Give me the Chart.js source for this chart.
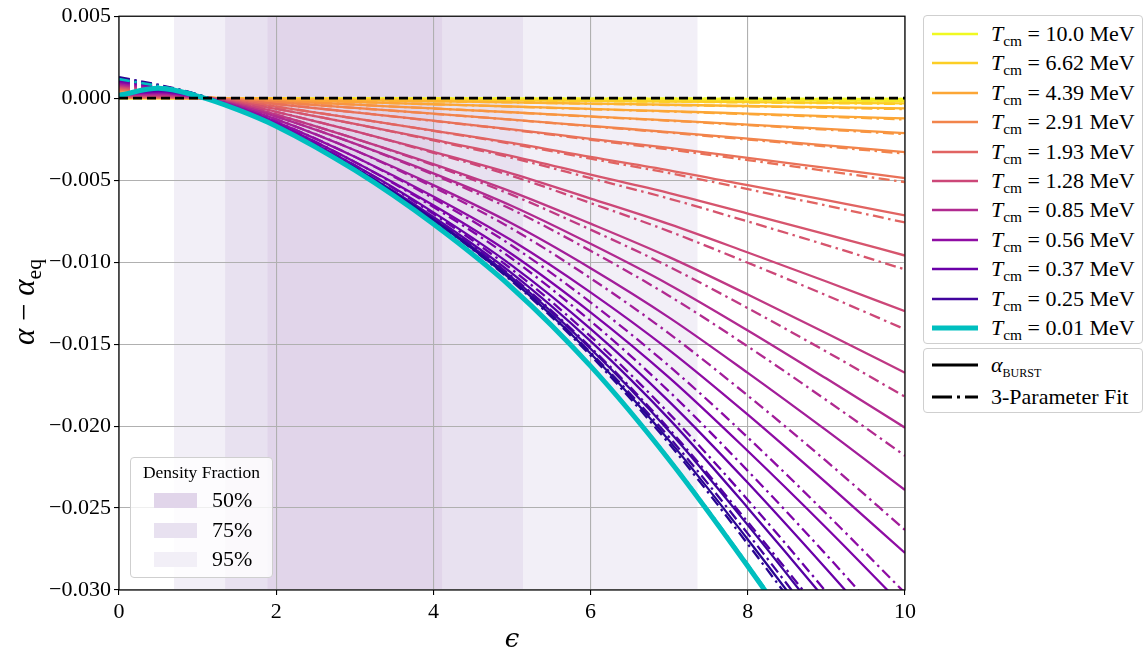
<!DOCTYPE html>
<html>
<head>
<meta charset="utf-8">
<script src="https://cdn.jsdelivr.net/npm/chart.js@4.4.1/dist/chart.umd.min.js"></script>
<style>
  body { margin: 0; background: #fff; }
  #wrap { position: relative; width: 1144px; height: 652px; font-family: "Liberation Serif", serif; color: #000; overflow: hidden; }
  #plot { position: absolute; left: 0; top: 0; width: 920px; height: 652px; }
  #ylab { position: absolute; left: 24px; top: 302px; transform: translate(-50%, -50%) rotate(-90deg); font-size: 31px; white-space: nowrap; }
  .box { position: absolute; background: rgba(255,255,255,0.8); border: 1px solid #cfcfcf; border-radius: 4px; box-sizing: border-box; }
  #tempLegend { left: 923px; top: 15px; width: 220px; height: 329px; }
  #fitLegend { left: 923px; top: 348px; width: 220px; height: 65px; }
  .row { position: absolute; left: 0; height: 29px; width: 100%; font-size: 22px; line-height: 29px; white-space: nowrap; }
  .row svg { position: absolute; left: 8px; top: 8px; }
  .row .txt { position: absolute; left: 67px; top: 0; }
  sub { font-size: 70%; vertical-align: -0.3em; line-height: 0; }
  .sc { font-variant: small-caps; font-size: 80%; }
  #densLegend { left: 130px; top: 457px; width: 143px; height: 121px; }
  #densLegend .ttl { position: absolute; left: 0; width: 100%; top: 4px; text-align: center; font-size: 17.5px; }
  #densLegend .sw { position: absolute; left: 23px; width: 43px; height: 15px; }
  #densLegend .pct { position: absolute; left: 81px; font-size: 22px; line-height: 24px; }
</style>
</head>
<body>
<div id="wrap">
  <div id="plot"><canvas id="chart"></canvas></div>
  <div id="ylab"><i>α</i> − <i>α</i><sub>eq</sub></div>
  <div class="box" id="tempLegend"></div>
  <div class="box" id="fitLegend"></div>
  <div class="box" id="densLegend"></div>
</div>
<script>
// epsilon sample points
const epsGrid = [0, 0.5, 1, 1.5, 2, 3, 4, 5, 6, 7, 8, 9, 10];

// comoving temperatures (MeV), last one is the cold limit
const tempsMeV = [10.0, 8.14, 6.62, 5.39, 4.39, 3.57, 2.91, 2.37, 1.93, 1.57, 1.28, 1.04,
                  0.85, 0.69, 0.56, 0.46, 0.37, 0.30, 0.25, 0.20, 0.01];

// alpha - alpha_eq from BURST, in units of 1e-3
const burst = [
  [0.001, 0, 0, -0.001, -0.004, -0.009, -0.015, -0.02, -0.026, -0.031, -0.037, -0.043, -0.049],
  [0.003, 0.002, 0, -0.005, -0.013, -0.031, -0.05, -0.068, -0.087, -0.106, -0.125, -0.145, -0.165],
  [0.006, 0.003, 0.001, -0.01, -0.026, -0.061, -0.097, -0.132, -0.171, -0.207, -0.245, -0.284, -0.323],
  [0.013, 0.006, 0.001, -0.019, -0.05, -0.119, -0.188, -0.257, -0.333, -0.402, -0.477, -0.553, -0.628],
  [0.025, 0.012, 0.002, -0.037, -0.099, -0.235, -0.371, -0.508, -0.656, -0.792, -0.941, -1.089, -1.238],
  [0.041, 0.021, 0.004, -0.062, -0.166, -0.397, -0.627, -0.86, -1.116, -1.353, -1.611, -1.874, -2.134],
  [0.059, 0.033, 0.007, -0.095, -0.25, -0.596, -0.948, -1.304, -1.696, -2.068, -2.473, -2.881, -3.293],
  [0.088, 0.054, 0.01, -0.137, -0.361, -0.863, -1.376, -1.898, -2.478, -3.034, -3.639, -4.258, -4.878],
  [0.122, 0.079, 0.014, -0.193, -0.515, -1.237, -1.973, -2.731, -3.582, -4.397, -5.305, -6.221, -7.15],
  [0.144, 0.106, 0.019, -0.25, -0.653, -1.574, -2.534, -3.533, -4.666, -5.789, -7.037, -8.304, -9.6],
  [0.182, 0.156, 0.026, -0.312, -0.832, -2.015, -3.276, -4.602, -6.123, -7.683, -9.412, -11.18, -13.0],
  [0.201, 0.201, 0.05, -0.385, -1.005, -2.462, -4.02, -5.712, -7.655, -9.698, -11.976, -14.338, -16.75],
  [0.201, 0.241, 0.06, -0.442, -1.126, -2.774, -4.583, -6.573, -8.884, -11.377, -14.171, -17.105, -20.1],
  [0.239, 0.311, 0.072, -0.502, -1.291, -3.179, -5.306, -7.648, -10.373, -13.384, -16.754, -20.267, -23.9],
  [0.25, 0.361, 0.083, -0.555, -1.442, -3.578, -5.992, -8.683, -11.845, -15.368, -19.307, -23.468, -27.74],
  [0.249, 0.404, 0.093, -0.622, -1.555, -3.888, -6.531, -9.517, -13.062, -17.043, -21.521, -26.217, -31.1],
  [0.239, 0.444, 0.102, -0.649, -1.639, -4.098, -6.967, -10.211, -14.07, -18.509, -23.461, -28.72, -34.15],
  [0.22, 0.476, 0.11, -0.659, -1.683, -4.244, -7.245, -10.684, -14.819, -19.576, -24.991, -30.662, -36.59],
  [0.23, 0.538, 0.115, -0.653, -1.69, -4.302, -7.375, -10.947, -15.287, -20.319, -26.042, -32.111, -38.41],
  [0.2, 0.559, 0.12, -0.679, -1.677, -4.274, -7.429, -11.103, -15.577, -20.889, -26.92, -33.27, -39.94],
  [0.171, 0.598, 0.128, -0.683, -1.707, -4.396, -7.682, -11.566, -16.346, -22.066, -28.553, -35.467, -42.68]
];

// 3-parameter fit, same units
const fit = [
  [0.06, 0.04, 0.01, -0.001, -0.004, -0.009, -0.015, -0.02, -0.026, -0.031, -0.037, -0.043, -0.049],
  [0.12, 0.08, 0.02, -0.005, -0.013, -0.031, -0.051, -0.071, -0.092, -0.114, -0.136, -0.16, -0.185],
  [0.18, 0.12, 0.03, -0.01, -0.026, -0.061, -0.099, -0.136, -0.178, -0.219, -0.262, -0.307, -0.353],
  [0.24, 0.15, 0.04, -0.019, -0.05, -0.119, -0.19, -0.262, -0.343, -0.418, -0.5, -0.584, -0.668],
  [0.3, 0.19, 0.05, -0.037, -0.099, -0.235, -0.374, -0.516, -0.671, -0.816, -0.975, -1.135, -1.298],
  [0.37, 0.24, 0.07, -0.062, -0.166, -0.397, -0.63, -0.868, -1.131, -1.377, -1.645, -1.92, -2.194],
  [0.49, 0.31, 0.09, -0.095, -0.25, -0.596, -0.953, -1.316, -1.718, -2.104, -2.524, -2.95, -3.383],
  [0.55, 0.35, 0.1, -0.137, -0.361, -0.863, -1.388, -1.929, -2.538, -3.13, -3.776, -4.443, -5.118],
  [0.61, 0.39, 0.11, -0.193, -0.515, -1.237, -1.995, -2.787, -3.69, -4.569, -5.55, -6.552, -7.58],
  [0.67, 0.43, 0.12, -0.25, -0.653, -1.574, -2.577, -3.644, -4.879, -6.129, -7.522, -8.959, -10.45],
  [0.73, 0.47, 0.13, -0.312, -0.832, -2.015, -3.331, -4.745, -6.398, -8.123, -10.039, -12.027, -14.1],
  [0.79, 0.51, 0.14, -0.385, -1.005, -2.462, -4.093, -5.902, -8.02, -10.282, -12.808, -15.462, -18.21],
  [0.85, 0.54, 0.15, -0.442, -1.126, -2.774, -4.669, -6.795, -9.312, -12.061, -15.146, -18.422, -21.81],
  [0.91, 0.58, 0.16, -0.502, -1.291, -3.179, -5.428, -7.965, -10.983, -14.36, -18.145, -22.146, -26.34],
  [0.98, 0.63, 0.18, -0.555, -1.442, -3.578, -6.114, -9.0, -12.455, -16.344, -20.698, -25.347, -30.18],
  [1.04, 0.67, 0.19, -0.622, -1.555, -3.888, -6.638, -9.794, -13.595, -17.895, -22.735, -27.857, -33.23],
  [1.1, 0.7, 0.2, -0.649, -1.639, -4.098, -7.059, -10.449, -14.528, -19.241, -24.504, -30.129, -35.98],
  [1.16, 0.74, 0.21, -0.659, -1.683, -4.244, -7.321, -10.882, -15.199, -20.184, -25.857, -31.832, -38.11],
  [1.22, 0.78, 0.22, -0.653, -1.69, -4.302, -7.421, -11.065, -15.515, -20.683, -26.561, -32.812, -39.32],
  [1.28, 0.82, 0.23, -0.679, -1.677, -4.274, -7.454, -11.167, -15.7, -21.085, -27.199, -33.647, -40.43],
  [1.16, 0.74, 0.21, -0.683, -1.707, -4.396, -7.673, -11.543, -16.301, -21.994, -28.45, -35.328, -42.5]
];

// equilibrium reference line
const eqLineX = [0, 10];
const eqLineY = [0, 0];

// density fraction bands (epsilon ranges)
const bandLabels = ['95%', '75%', '50%'];
const bandLo = [0.70, 1.35, 1.89];
const bandHi = [7.36, 5.14, 4.11];

const MILLI = 1e-3;

const lineColors = ['#f0f921', '#f6e626', '#fcce25', '#fdb42f', '#fca636', '#f89540', '#f2844b',
  '#e97158', '#e16462', '#d6556d', '#cc4778', '#bf3984', '#b12a90', '#a21d9a', '#8f0da4',
  '#7e03a8', '#6a00a8', '#5601a4', '#41049d', '#2a0593', '#00bfbf'];
const bandColors = ['#f2eff7', '#e8e1f0', '#e1d5ea'];
const DASHDOT = [11, 4.5, 2.5, 4.5];

function pts(xs, ys, k) {
  return xs.map((x, j) => ({ x: x, y: ys[j] * k }));
}

const datasets = [{
  data: pts(eqLineX, eqLineY, 1),
  borderColor: '#000', borderWidth: 2.6, borderDash: [9, 5], order: 0
}];
const last = tempsMeV.length - 1;
tempsMeV.forEach((T, i) => {
  const cold = i === last;
  const base = cold ? 1 : 3 + 2 * (last - 1 - i);
  datasets.push({
    label: 'T_cm = ' + T + ' MeV',
    legendText: '<i>T</i><sub>cm</sub> = ' + (T === 10 ? '10.0' : T.toFixed(2)) + ' MeV',
    inLegend: cold || i % 2 === 0,
    data: pts(epsGrid, burst[i], MILLI),
    borderColor: lineColors[i], borderWidth: cold ? 5 : 2.3, order: base
  });
  datasets.push({
    data: pts(epsGrid, fit[i], MILLI),
    borderColor: lineColors[i], borderWidth: cold ? 2.6 : 2.3, borderDash: DASHDOT, order: base + 1
  });
});

function sample(color, width, dash) {
  return '<svg width="46" height="14"><line x1="0" y1="7" x2="46" y2="7" stroke="' + color +
    '" stroke-width="' + width + '"' + (dash ? ' stroke-dasharray="' + dash + '"' : '') + '/></svg>';
}

const htmlLegend = {
  id: 'htmlLegend',
  afterUpdate(chart) {
    const box = document.getElementById('tempLegend');
    box.innerHTML = '';
    chart.data.datasets.filter(ds => ds.inLegend).forEach((ds, k) => {
      const row = document.createElement('div');
      row.className = 'row';
      row.style.top = (3 + 29.4 * k) + 'px';
      row.innerHTML = sample(ds.borderColor, ds.borderWidth === 5 ? 5 : 2.6) + '<span class="txt">' + ds.legendText + '</span>';
      box.appendChild(row);
    });
    const fitBox = document.getElementById('fitLegend');
    fitBox.innerHTML =
      '<div class="row" style="top:1px">' + sample('#000', 3) + '<span class="txt"><i>α</i><sub class="sc">burst</sub></span></div>' +
      '<div class="row" style="top:33px">' + sample('#000', 3, '20 5 3 5') + '<span class="txt">3-Parameter Fit</span></div>';
    const dens = document.getElementById('densLegend');
    let html = '<div class="ttl">Density Fraction</div>';
    [2, 1, 0].forEach((b, k) => {
      html += '<div class="sw" style="top:' + (35 + 29.5 * k) + 'px;background:' + bandColors[b] + '"></div>' +
              '<div class="pct" style="top:' + (30 + 29.5 * k) + 'px">' + bandLabels[b] + '</div>';
    });
    dens.innerHTML = html;
  }
};

const frame = {
  id: 'frame',
  beforeDraw(chart) {
    const { ctx, chartArea: a, scales: { x } } = chart;
    ctx.save();
    bandLo.forEach((lo, k) => {
      const x0 = x.getPixelForValue(lo), x1 = x.getPixelForValue(bandHi[k]);
      ctx.fillStyle = bandColors[k];
      ctx.fillRect(x0, a.top, x1 - x0, a.bottom - a.top);
    });
    ctx.restore();
  },
  afterDatasetsDraw(chart) {
    const { ctx, chartArea: a } = chart;
    ctx.save();
    ctx.strokeStyle = '#000';
    ctx.lineWidth = 1.2;
    ctx.strokeRect(a.left, a.top, a.right - a.left, a.bottom - a.top);
    ctx.restore();
  }
};

Chart.defaults.font.family = "'Liberation Serif', serif";
Chart.defaults.color = '#000';

new Chart(document.getElementById('chart'), {
  type: 'line',
  data: { datasets: datasets },
  options: {
    responsive: true,
    maintainAspectRatio: false,
    animation: false,
    events: [],
    layout: { padding: { top: 16, right: 15, bottom: 0, left: 0 } },
    elements: {
      point: { radius: 0 },
      line: { cubicInterpolationMode: 'monotone', fill: false }
    },
    datasets: { line: { clip: 0 } },
    plugins: { legend: { display: false }, tooltip: { enabled: false } },
    scales: {
      x: {
        type: 'linear', min: 0, max: 10,
        afterFit: s => { s.height = 62; },
        grid: { color: '#b0b0b0', lineWidth: 1.1, tickColor: '#000', tickLength: 5 },
        border: { display: false },
        ticks: { stepSize: 2, padding: 4, font: { size: 22 } },
        title: { display: true, text: 'ϵ', padding: { top: 0, bottom: -4 },
                 font: { family: "'DejaVu Serif', serif", size: 26, style: 'italic' } }
      },
      y: {
        type: 'linear', min: -0.030, max: 0.005,
        afterFit: s => { s.width = 119; },
        grid: { color: '#b0b0b0', lineWidth: 1.1, tickColor: '#000', tickLength: 5 },
        border: { display: false },
        ticks: {
          stepSize: 0.005, padding: 3, font: { size: 22 },
          callback: v => (Math.abs(v) < 1e-9 ? '0.000' : v.toFixed(3)).replace('-', '\u2212')
        }
      }
    }
  },
  plugins: [frame, htmlLegend]
});
</script>
</body>
</html>
